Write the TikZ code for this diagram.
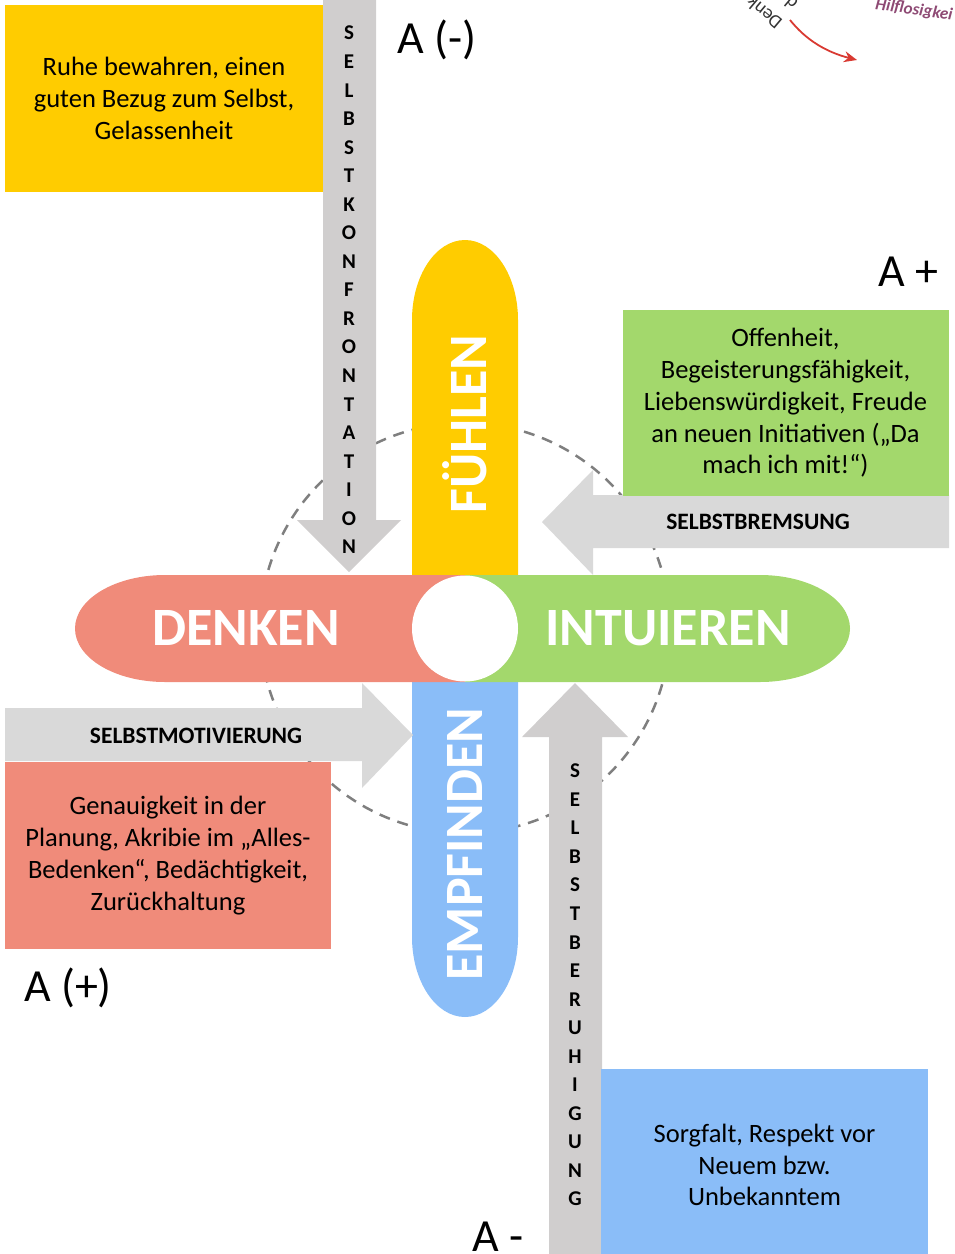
\documentclass[tikz,border=0pt]{standalone}
\usepackage{fontspec}
\setmainfont{Carlito}
\usetikzlibrary{arrows.meta}

\definecolor{gelb}{HTML}{FFCC00}
\definecolor{gruen}{HTML}{A3D86C}
\definecolor{rot}{HTML}{F08B7A}
\definecolor{blau}{HTML}{8ABDF8}
\definecolor{grauh}{HTML}{D9D9D9}
\definecolor{grauv}{HTML}{D0CECE}
\definecolor{kreis}{HTML}{7F7F7F}
\definecolor{lila}{HTML}{8E4A74}
\definecolor{pfeilrot}{HTML}{D93A32}

\begin{document}
\begin{tikzpicture}[x=1pt, y=-1pt,
    feld/.style={inner sep=0pt, align=center, font=\fontsize{26.5}{31.8}\selectfont},
    pilltext/.style={text=white, inner sep=0pt, font=\fontsize{54}{54}\selectfont\bfseries},
    pfeiltext/.style={inner sep=0pt, font=\fontsize{23.5}{23.5}\selectfont\bfseries},
    stapel/.style={inner sep=0pt, align=center, font=\fontsize{21}{28.55}\selectfont\bfseries},
    marke/.style={inner sep=0pt, font=\fontsize{46}{46}\selectfont}]
    \useasboundingbox (0,0) rectangle (954,1254);
    \clip (0,0) rectangle (954,1254);

    % dashed circle behind everything
    \draw[kreis, line width=2.5pt, dash pattern=on 11pt off 8pt] (465,628) circle (205);

    % vertical pills
    \fill[gelb] (412,575) -- (412,320) arc (180:360:53 and 80) -- (518,575) -- cycle;
    \fill[blau] (412,682) -- (412,937) arc (180:0:53 and 80) -- (518,682) -- cycle;

    % horizontal pill, two halves
    \fill[rot] (465,575) -- (165,575) arc (270:90:90 and 53.5) -- (465,682) -- cycle;
    \fill[gruen] (465,575) -- (760,575) arc (270:450:90 and 53.5) -- (465,682) -- cycle;

    % white circle in the middle
    \fill[white] (465,628.5) circle (53);

    \node[pilltext] (denken) at (246,628) {DENKEN};
    \node[pilltext] (intuieren) at (668,628) {INTUIEREN};
    \node[pilltext, rotate=90] (fuehlen) at (465,424) {FÜHLEN};
    \node[pilltext, rotate=90] (empfinden) at (465,844) {EMPFINDEN};

    % block arrows
    \fill[grauv] (323,0) -- (376,0) -- (376,520) -- (401,520) -- (349,572) -- (297,520) -- (323,520) -- cycle;
    \fill[grauh] (949,495) -- (593,495) -- (593,470) -- (542,522) -- (593,575) -- (593,548) -- (949,548) -- cycle;
    \fill[grauh] (5,708) -- (362,708) -- (362,683) -- (413,735) -- (362,788) -- (362,761) -- (5,761) -- cycle;
    \fill[grauv] (549,1254) -- (549,737) -- (522,737) -- (575,683) -- (628,737) -- (602,737) -- (602,1254) -- cycle;

    \node[stapel] (konfrontation) at (349,290)
      {S\\E\\L\\B\\S\\T\\K\\O\\N\\F\\R\\O\\N\\T\\A\\T\\I\\O\\N};
    \node[stapel] (beruhigung) at (575,985)
      {S\\E\\L\\B\\S\\T\\B\\E\\R\\U\\H\\I\\G\\U\\N\\G};
    \node[pfeiltext] (bremsung) at (758,522) {SELBSTBREMSUNG};
    \node[pfeiltext] (motivierung) at (196,736) {SELBSTMOTIVIERUNG};

    % the four boxes
    \node[feld, fill=gelb, minimum width=318pt, minimum height=187pt] (ruhe) at (164,98.5)
      {Ruhe bewahren, einen\\guten Bezug zum Selbst,\\Gelassenheit};
    \node[feld, fill=gruen, minimum width=326pt, minimum height=186pt] (offenheit) at (785.5,403)
      {Offenheit,\\Begeisterungsfähigkeit,\\Liebenswürdigkeit, Freude\\an neuen Initiativen („Da\\mach ich mit!“)};
    \node[feld, fill=rot, minimum width=326pt, minimum height=187pt] (genauigkeit) at (168,855.5)
      {Genauigkeit in der\\Planung, Akribie im „Alles-\\Bedenken“, Bedächtigkeit,\\Zurückhaltung};
    \node[feld, fill=blau, minimum width=327pt, minimum height=192pt] (sorgfalt) at (764.5,1165)
      {Sorgfalt, Respekt vor\\Neuem bzw.\\Unbekanntem};

    % corner labels
    \node[marke] (aminusk) at (437,40) {A (-)};
    \node[marke] (aplus) at (908,272) {A +};
    \node[marke] (aplusk) at (68,988) {A (+)};
    \node[marke] (aminus) at (498,1237) {A -};

    % cut off piece at the top right
    \node[rotate=140, inner sep=0pt, text=black!80, font=\fontsize{19}{19}\selectfont] (denk) at (764,13) {Denk};
    \node[rotate=140, inner sep=0pt, text=black!80, font=\fontsize{19}{19}\selectfont] (dfrag) at (791,3) {d};
    \node[rotate=-8, inner sep=0pt, text=lila, font=\fontsize{17}{17}\selectfont\itshape\bfseries] (hilflos) at (914,10) {Hilflosigkei};
    \coordinate (pstart) at (790,20);
    \coordinate (pziel) at (857,60);
    \draw[pfeilrot, line width=1.8pt, -{Stealth[length=13pt,width=11pt]}] (pstart) .. controls (806,40) and (826,52) .. (pziel);
\end{tikzpicture}
\end{document}
